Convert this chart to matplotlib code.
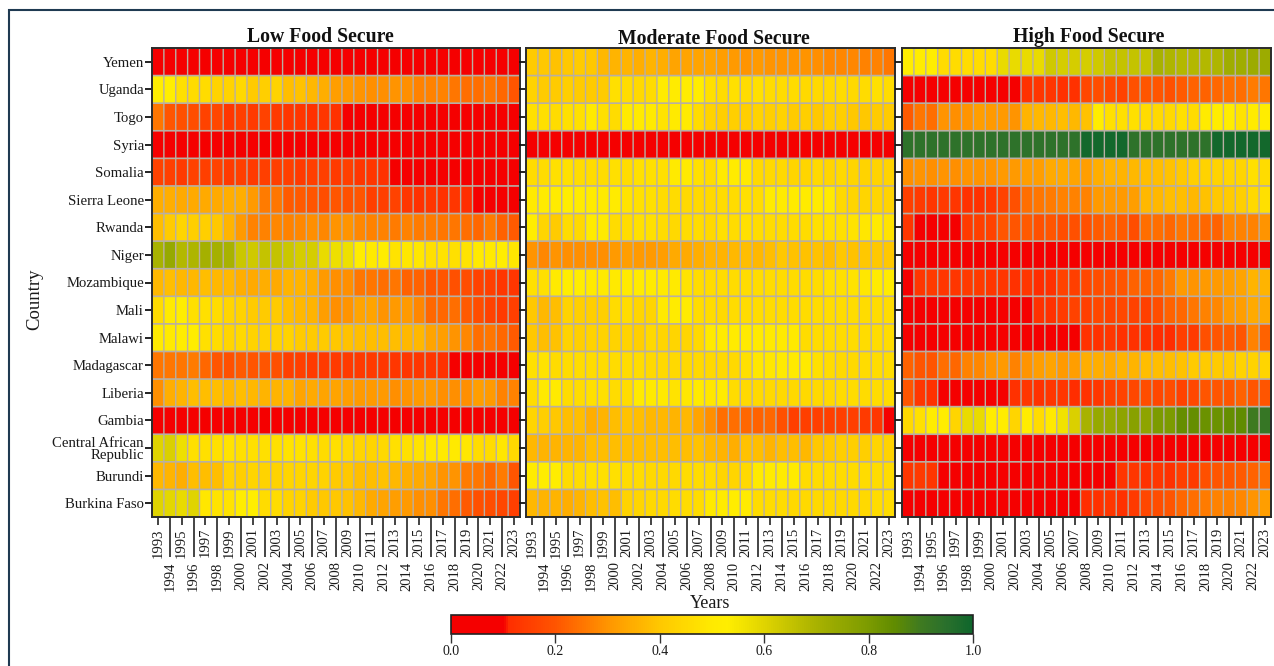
import matplotlib
matplotlib.use("Agg")
import matplotlib.pyplot as plt
from matplotlib.colors import LinearSegmentedColormap
from matplotlib.patches import Rectangle
import numpy as np

W, H = 1274, 666

countries = ["Yemen", "Uganda", "Togo", "Syria", "Somalia", "Sierra Leone", "Rwanda", "Niger",
             "Mozambique", "Mali", "Malawi", "Madagascar", "Liberia", "Gambia",
             "Central African\nRepublic", "Burundi", "Burkina Faso"]
years = list(range(1993, 2024))

low_food = [
    [.05, .05, .04, .05, .04, .04, .05, .05, .04, .05, .05, .04, .05, .05, .04, .04, .05, .05, .05, .05, .04, .05, .05, .05, .05, .04, .05, .05, .04, .05, .05],
    [.52, .53, .47, .46, .46, .43, .43, .45, .41, .42, .43, .38, .39, .37, .35, .32, .31, .30, .29, .29, .30, .29, .27, .27, .27, .25, .24, .24, .25, .23, .20],
    [.25, .20, .19, .18, .16, .17, .13, .15, .14, .16, .14, .13, .13, .12, .13, .12, .07, .07, .07, .06, .06, .06, .06, .06, .06, .06, .06, .05, .05, .05, .05],
    [.05, .05, .04, .05, .04, .04, .04, .04, .04, .04, .04, .04, .04, .04, .04, .04, .04, .04, .04, .04, .04, .04, .04, .04, .04, .04, .04, .04, .04, .04, .04],
    [.16, .15, .14, .16, .15, .16, .14, .15, .14, .15, .15, .15, .14, .15, .15, .14, .15, .13, .13, .12, .08, .07, .07, .07, .07, .07, .06, .06, .06, .06, .06],
    [.35, .35, .34, .34, .34, .34, .35, .35, .31, .26, .25, .21, .21, .20, .18, .20, .19, .20, .15, .15, .16, .13, .12, .13, .12, .13, .11, .07, .07, .06, .06],
    [.38, .41, .44, .42, .42, .40, .36, .31, .27, .27, .28, .27, .28, .29, .28, .30, .30, .28, .27, .27, .26, .27, .26, .26, .25, .25, .24, .23, .26, .22, .21],
    [.70, .74, .68, .69, .71, .71, .70, .64, .63, .65, .65, .64, .62, .62, .58, .57, .57, .52, .50, .52, .48, .49, .49, .47, .48, .47, .48, .50, .50, .52, .49],
    [.37, .38, .37, .37, .38, .37, .37, .35, .34, .35, .34, .36, .36, .35, .31, .29, .29, .25, .25, .24, .25, .22, .22, .20, .20, .19, .18, .16, .15, .13, .13],
    [.46, .50, .52, .47, .47, .46, .44, .43, .41, .41, .41, .38, .37, .36, .32, .29, .30, .33, .33, .30, .31, .31, .28, .23, .23, .24, .21, .18, .16, .14, .15],
    [.50, .50, .52, .52, .47, .46, .44, .45, .43, .43, .43, .43, .41, .41, .41, .40, .39, .38, .38, .38, .38, .37, .37, .33, .32, .30, .28, .24, .25, .23, .21],
    [.25, .25, .25, .26, .23, .20, .19, .21, .20, .20, .19, .15, .15, .14, .14, .14, .14, .14, .14, .13, .13, .13, .13, .13, .12, .07, .07, .07, .07, .06, .06],
    [.29, .35, .36, .38, .38, .38, .37, .38, .37, .36, .36, .36, .33, .34, .33, .33, .32, .31, .31, .31, .29, .30, .31, .31, .29, .29, .29, .32, .31, .27, .27],
    [.05, .05, .05, .05, .04, .04, .04, .04, .04, .04, .04, .04, .04, .04, .04, .05, .04, .04, .05, .04, .04, .04, .04, .04, .04, .04, .04, .05, .04, .05, .04],
    [.60, .61, .57, .47, .47, .47, .48, .47, .47, .47, .47, .48, .48, .47, .46, .47, .45, .44, .44, .45, .47, .47, .48, .49, .50, .50, .49, .46, .46, .49, .45],
    [.37, .36, .35, .38, .38, .38, .43, .42, .44, .43, .43, .44, .44, .44, .43, .41, .40, .38, .38, .39, .37, .35, .34, .33, .30, .30, .26, .25, .23, .26, .20],
    [.60, .59, .58, .60, .49, .48, .48, .52, .53, .46, .46, .43, .43, .41, .40, .40, .39, .37, .34, .33, .32, .31, .29, .29, .25, .24, .21, .19, .18, .17, .15],
]

moderate_food = [
    [.41, .40, .39, .40, .41, .40, .37, .36, .36, .35, .36, .35, .33, .33, .33, .33, .32, .31, .30, .31, .30, .30, .30, .30, .29, .28, .28, .28, .27, .27, .25],
    [.43, .41, .41, .42, .41, .41, .41, .47, .46, .45, .46, .51, .51, .52, .52, .47, .46, .47, .46, .47, .46, .46, .46, .45, .45, .45, .46, .45, .46, .47, .46],
    [.47, .47, .46, .47, .47, .50, .47, .46, .50, .50, .50, .48, .50, .51, .46, .43, .42, .42, .42, .43, .42, .43, .41, .42, .40, .42, .42, .40, .40, .41, .41],
    [.05, .05, .05, .05, .05, .05, .05, .05, .05, .05, .05, .05, .05, .05, .05, .05, .04, .05, .05, .05, .05, .05, .05, .05, .05, .05, .05, .05, .05, .05, .05],
    [.46, .46, .47, .47, .46, .46, .46, .47, .46, .47, .47, .47, .50, .50, .47, .46, .50, .51, .50, .45, .45, .45, .44, .44, .45, .44, .45, .44, .43, .43, .43],
    [.50, .51, .51, .52, .51, .51, .50, .51, .48, .47, .47, .46, .46, .45, .45, .45, .46, .46, .47, .46, .51, .51, .51, .51, .51, .50, .45, .44, .44, .44, .43],
    [.52, .44, .41, .46, .45, .51, .50, .46, .46, .47, .47, .46, .45, .46, .46, .45, .47, .46, .47, .46, .46, .46, .46, .46, .47, .47, .47, .48, .49, .50, .48],
    [.30, .28, .30, .29, .29, .29, .29, .31, .32, .31, .31, .32, .34, .34, .35, .36, .36, .37, .38, .37, .38, .40, .39, .39, .39, .38, .40, .39, .40, .40, .40],
    [.47, .47, .50, .52, .52, .50, .50, .50, .50, .51, .51, .50, .50, .48, .46, .46, .46, .46, .46, .46, .46, .46, .46, .46, .46, .47, .47, .48, .49, .51, .51],
    [.40, .37, .38, .43, .42, .42, .42, .46, .46, .44, .44, .50, .51, .51, .46, .46, .45, .46, .46, .46, .46, .46, .46, .46, .46, .46, .46, .46, .46, .46, .46],
    [.40, .38, .39, .43, .42, .43, .43, .43, .43, .42, .45, .44, .44, .44, .45, .50, .51, .51, .50, .50, .50, .50, .50, .46, .46, .46, .46, .46, .46, .46, .46],
    [.47, .48, .46, .46, .46, .46, .46, .46, .46, .46, .45, .45, .45, .45, .45, .45, .45, .45, .47, .49, .49, .50, .50, .50, .47, .46, .45, .45, .46, .46, .46],
    [.46, .50, .50, .46, .46, .47, .47, .46, .46, .50, .50, .50, .48, .49, .50, .49, .51, .46, .45, .45, .45, .45, .45, .45, .45, .45, .46, .46, .46, .46, .46],
    [.44, .42, .40, .38, .38, .35, .36, .38, .39, .38, .37, .37, .36, .37, .33, .29, .24, .24, .23, .22, .23, .19, .15, .15, .15, .15, .15, .15, .14, .13, .05],
    [.37, .36, .36, .36, .36, .38, .38, .38, .38, .38, .38, .38, .38, .38, .39, .37, .36, .35, .39, .38, .36, .38, .38, .37, .40, .41, .42, .42, .42, .44, .43],
    [.51, .52, .52, .46, .46, .47, .47, .47, .46, .46, .45, .45, .45, .46, .46, .46, .44, .44, .45, .50, .51, .51, .51, .46, .46, .46, .46, .46, .46, .46, .46],
    [.37, .36, .36, .35, .36, .38, .39, .38, .43, .44, .45, .45, .46, .46, .46, .50, .51, .52, .51, .46, .46, .46, .45, .45, .45, .45, .45, .45, .45, .46, .46],
]

high_food = [
    [.52, .52, .52, .46, .46, .46, .46, .46, .58, .58, .58, .58, .63, .62, .62, .62, .63, .65, .65, .65, .65, .70, .69, .68, .68, .68, .69, .72, .72, .73, .73],
    [.05, .05, .05, .05, .05, .05, .05, .05, .05, .05, .12, .13, .13, .12, .12, .17, .18, .17, .16, .19, .20, .20, .19, .21, .22, .22, .23, .24, .24, .26, .25],
    [.21, .25, .24, .30, .29, .30, .32, .31, .31, .30, .36, .37, .37, .38, .37, .39, .52, .47, .47, .47, .46, .45, .45, .47, .46, .51, .52, .52, .48, .51, .52],
    [.94, .94, .94, .94, .94, .94, .94, .94, .94, .94, .94, .94, .94, .94, .94, .99, .99, .99, .99, .94, .94, .94, .94, .94, .94, .94, .99, .99, .99, .99, .99],
    [.29, .30, .29, .30, .29, .30, .30, .30, .31, .31, .32, .32, .34, .34, .33, .32, .35, .36, .36, .37, .38, .38, .39, .40, .42, .43, .43, .44, .44, .47, .46],
    [.15, .14, .13, .14, .13, .12, .12, .13, .16, .19, .24, .25, .26, .27, .27, .27, .31, .31, .31, .32, .37, .37, .38, .38, .37, .39, .40, .41, .42, .45, .47],
    [.13, .05, .05, .05, .05, .14, .15, .16, .20, .20, .21, .19, .20, .18, .19, .19, .21, .22, .21, .18, .24, .24, .23, .25, .24, .23, .22, .27, .27, .27, .30],
    [.05, .05, .05, .05, .05, .05, .05, .05, .05, .05, .05, .05, .05, .04, .04, .04, .05, .05, .05, .05, .05, .05, .05, .05, .05, .05, .05, .05, .05, .04, .04],
    [.05, .13, .14, .13, .13, .14, .14, .13, .13, .12, .13, .11, .12, .16, .15, .17, .18, .19, .20, .22, .22, .23, .26, .31, .30, .31, .31, .32, .33, .36, .36],
    [.05, .05, .05, .05, .05, .05, .05, .05, .05, .05, .05, .12, .12, .14, .16, .15, .17, .16, .17, .16, .15, .18, .22, .23, .25, .27, .28, .31, .32, .34, .34],
    [.05, .05, .05, .05, .05, .05, .05, .05, .05, .05, .05, .05, .05, .05, .05, .12, .12, .13, .12, .12, .12, .11, .11, .15, .14, .19, .20, .21, .20, .27, .22],
    [.22, .20, .20, .24, .23, .27, .28, .30, .31, .27, .30, .32, .33, .31, .32, .35, .35, .34, .36, .36, .38, .38, .38, .39, .41, .41, .41, .41, .43, .43, .44],
    [.20, .13, .12, .05, .05, .05, .05, .05, .05, .12, .13, .12, .13, .13, .11, .12, .13, .15, .16, .17, .18, .17, .18, .16, .17, .20, .20, .20, .22, .20, .20],
    [.45, .47, .52, .52, .44, .58, .58, .52, .52, .44, .52, .46, .50, .56, .61, .70, .74, .74, .76, .77, .76, .80, .80, .84, .84, .83, .83, .84, .85, .90, .92],
    [.05, .05, .05, .05, .05, .05, .05, .05, .05, .05, .05, .05, .05, .05, .05, .05, .05, .05, .05, .05, .05, .05, .05, .05, .05, .05, .05, .05, .05, .05, .05],
    [.13, .14, .13, .05, .05, .05, .05, .05, .05, .05, .05, .05, .05, .05, .05, .05, .05, .05, .13, .13, .12, .13, .12, .15, .14, .19, .20, .20, .21, .22, .24],
    [.05, .05, .05, .05, .05, .05, .05, .05, .05, .05, .05, .05, .05, .05, .05, .11, .12, .13, .12, .14, .17, .18, .20, .23, .24, .26, .27, .27, .28, .30, .32],
]

panel_titles = ["Low Food Secure", "Moderate Food Secure", "High Food Secure"]
panel_data = [low_food, moderate_food, high_food]
cbar_ticks = [0.0, 0.2, 0.4, 0.6, 0.8, 1.0]

plt.rcParams['font.family'] = ['Liberation Serif', 'DejaVu Serif']

cmap = LinearSegmentedColormap.from_list("food", [
    (0.0, "#f50000"), (0.10, "#f50000"), (0.11, "#ff2e00"), (0.2, "#ff5500"), (0.3, "#ff9500"),
    (0.4, "#ffc800"), (0.5, "#ffea00"), (0.53, "#ffee00"), (0.6, "#e0d400"), (0.7, "#a9b200"),
    (0.8, "#7c9b00"), (0.85, "#618c00"), (0.9, "#3f7a20"), (0.95, "#2a702c"), (1.0, "#0f662c")])

TEXT = "#1a1a1a"
GRID = "#b8afa4"


def px_axes(fig, left, top, right, bottom):
    return fig.add_axes([left / W, 1 - bottom / H, (right - left) / W, (bottom - top) / H])


fig = plt.figure(figsize=(W / 100, H / 100), dpi=100, facecolor="white")

# outer border, only the left and top sides are in the picture
fig.patches.append(Rectangle((8.5 / W, -0.1), 1.2, 1 - 10.5 / H + 0.1, transform=fig.transFigure,
                             fill=False, edgecolor="#1f3a52", linewidth=1.5, figure=fig))

panel_x = [(152, 520), (526, 895), (902, 1271)]
title_pos = [(320, 37), (714, 39), (1089, 37)]
n_rows = len(countries)
n_cols = len(years)
mesh = None
for i, (x0, x1) in enumerate(panel_x):
    ax = px_axes(fig, x0, 48, x1, 517)
    mesh = ax.pcolormesh(np.array(panel_data[i]), cmap=cmap, vmin=0, vmax=1)
    vl = ax.vlines(np.arange(1, n_cols), 0, n_rows, color=GRID, linewidth=1.0)
    hl = ax.hlines(np.arange(1, n_rows), 0, n_cols, color=GRID, linewidth=1.2)
    vl.set_snap(False)
    hl.set_snap(False)
    ax.invert_yaxis()
    ax.set_yticks(np.arange(n_rows) + 0.5)
    ax.set_xticks(np.arange(n_cols) + 0.5)
    ax.tick_params(axis="y", length=5, width=1.3, color="#111111", pad=0.8)
    ax.tick_params(axis="x", length=5.4, width=1.1, color="#111111")
    if i == 0:
        ax.set_yticklabels(countries, fontsize=10.6, color=TEXT, linespacing=0.93)
    else:
        ax.set_yticklabels([])
    ax.set_xticklabels([])
    for j, y in enumerate(years):
        # every second year sits on a lower row, with a long tick
        if j % 2 == 1:
            ax.xaxis.get_major_ticks()[j].tick1line.set_markersize(29)
        ax.annotate(str(y), (j + 0.5, 0), xycoords=("data", "axes fraction"),
                    xytext=(0, -8 if j % 2 == 0 else -32), textcoords="offset points",
                    rotation=90, ha="center", va="top", fontsize=10.5, color=TEXT)
    for s in ax.spines.values():
        s.set_linewidth(1.4)
        s.set_color("#2b2b2b")
    fig.text(title_pos[i][0] / W, 1 - title_pos[i][1] / H, panel_titles[i], ha="center", va="center",
             fontsize=14.2, fontweight="bold", color="#111111")

fig.text(35 / W, 1 - 299 / H, "Country", rotation=90, ha="center", va="center", fontsize=13.5, color=TEXT)
fig.text(710 / W, 1 - 604 / H, "Years", ha="center", va="center", fontsize=13, color=TEXT)

cax = px_axes(fig, 451, 615, 973, 634)
cb = fig.colorbar(mesh, cax=cax, orientation="horizontal", ticks=cbar_ticks)
cb.ax.tick_params(length=6.5, width=1, color="#333333", labelsize=10, labelcolor=TEXT, pad=1.5)
cb.ax.set_xticklabels(["%.1f" % t for t in cbar_ticks])
cb.outline.set_linewidth(1.2)
cb.outline.set_edgecolor("#222222")

fig.savefig("out.png", dpi=100, facecolor="white")
